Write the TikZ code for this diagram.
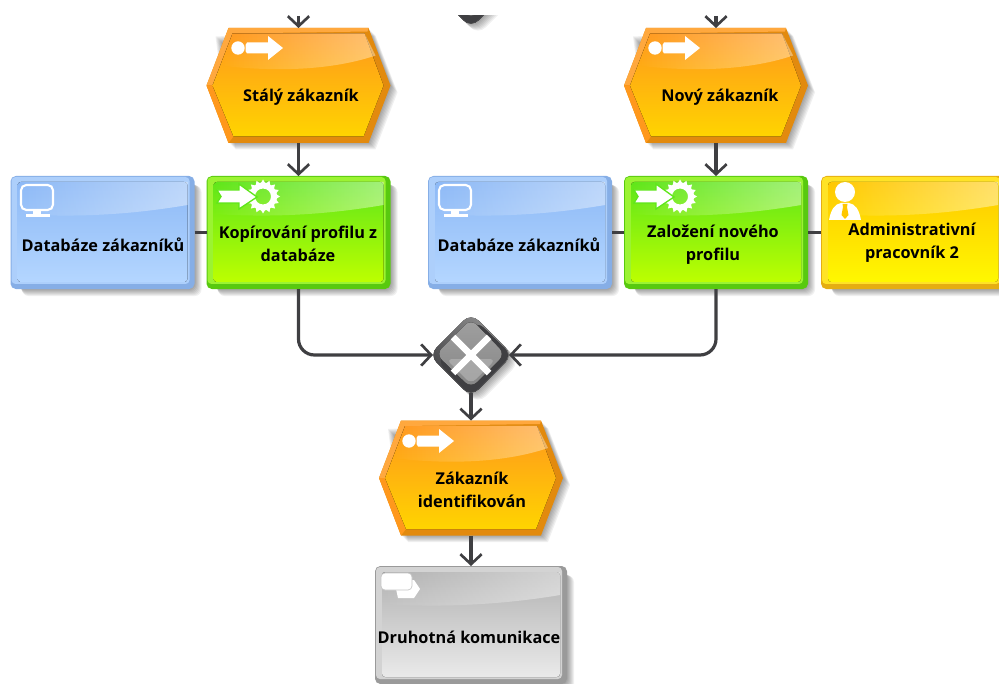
\documentclass[tikz,border=0pt]{standalone}
\usepackage{fontspec}
\setmainfont{Open Sans}
\usetikzlibrary{arrows.meta,fadings,calc}
\definecolor{linec}{HTML}{3F3F42}
\definecolor{bluee}{HTML}{86AEE6}\definecolor{bluet}{HTML}{8DB9F6}\definecolor{blueb}{HTML}{B4D6FF}
\definecolor{greene}{HTML}{58C90F}\definecolor{greent}{HTML}{5FE61A}\definecolor{greenb}{HTML}{BDFF00}
\definecolor{yele}{HTML}{E5AE12}\definecolor{yelt}{HTML}{FFC800}\definecolor{yelb}{HTML}{FFF800}
\definecolor{grye}{HTML}{9A9A9A}\definecolor{gryt}{HTML}{B2B2B2}\definecolor{gryb}{HTML}{EAEAEA}
\definecolor{orne}{HTML}{E28A0E}\definecolor{ornt}{HTML}{FF981C}\definecolor{ornb}{HTML}{FFD400}
\tikzset{
  x=0.75pt,y=-0.75pt,
  anchorbox/.style={inner sep=0pt,outer sep=0pt,rectangle},
  lbl/.style={inner sep=0pt,align=center,text=black,font=\fontsize{12.2}{17.2}\selectfont\bfseries},
  conn/.style={draw=linec,line width=2.4pt},
  flow/.style={conn,-{Straight Barb[length=7.5pt,width=16pt,line width=2pt]}},
  softshadow/.style={fill=black,fill opacity=0.06},
}
% name, cx, cy, w, h, colour prefix
\newcommand{\epcbox}[6]{%
  \begin{scope}[shift={(#2,#3)}]
    \pgfmathsetmacro{\hw}{#4/2}\pgfmathsetmacro{\hh}{#5/2}
    \foreach \d in {1,2,...,7}{
      \fill[softshadow,rounded corners=5pt] (-\hw+8+\d/2,-\hh+6+\d/2) rectangle (\hw+\d,\hh+\d);}
    \fill[#6e,rounded corners=4pt] (-\hw,-\hh) rectangle (\hw,\hh);
    \fill[#6t!55!#6b!85!white,rounded corners=3pt] (-\hw+1,-\hh+1) rectangle (\hw-5,\hh-5);
    \fill[top color=#6t,bottom color=#6b,rounded corners=2.5pt] (-\hw+7,-\hh+6) rectangle (\hw-7,\hh-7);
    \fill[white,fill opacity=0.42,path fading=west]
      (-\hw+7,-\hh+6) -- (\hw-7,-\hh+6) -- (\hw-7,-\hh+29)
      .. controls (\hw-60,-\hh+38) and (-\hw+70,-\hh+42) .. (-\hw+7,-\hh+38) -- cycle;
  \end{scope}
  \node[anchorbox,minimum width=#4*0.75pt,minimum height=#5*0.75pt] (#1) at (#2,#3) {};
}
% name, cx, cy
\newcommand{\epchex}[3]{%
  \begin{scope}[shift={(#2,#3)}]
    \foreach \d in {1,2,...,7}{
      \fill[softshadow] (-84+\d,-50+\d) -- (70+\d,-57+\d) -- (92+\d,0+\d) -- (70+\d,57+\d) -- (-70+\d,57+\d) -- cycle;}
    \fill[orne] (-92,0) -- (-70,-57.5) -- (70,-57.5) -- (92,0) -- (70,57.5) -- (-70,57.5) -- cycle;
    \fill[ornt!85!white] (-92,0) -- (-70,-57.5) -- (70,-57.5) -- (69,-54) -- (-66,-52) -- (-86,0) -- cycle;
    \fill[ornt] (-92,0) -- (-70,57.5) -- (-65,51) -- (-86,0) -- cycle;
    \fill[top color=ornt,bottom color=ornb] (-86,0) -- (-66,-52) -- (66,-52) -- (85,0) -- (65,51) -- (-65,51) -- cycle;
    \fill[white,fill opacity=0.38,path fading=west]
      (-66,-52) -- (66,-52) -- (77,-30)
      .. controls (30,-14) and (-30,-14) .. (-78,-20) -- cycle;
  \end{scope}
  \node[anchorbox,minimum width=138pt,minimum height=86.25pt] (#1) at (#2,#3) {};
}
% gateway body around (cx,cy)
\newcommand{\gatebody}[2]{%
  \begin{scope}[shift={(#1,#2)}]
    \foreach \d in {1,2,...,7}{
      \fill[softshadow,rounded corners=8pt] (-42+\d,\d) -- (\d,-42+\d) -- (42+\d,\d) -- (\d,42+\d) -- cycle;}
    \fill[rounded corners=8pt,shading=axis,left color=gray!85!white,right color=linec,shading angle=-45] (-42,0) -- (0,-42) -- (42,0) -- (0,42) -- cycle;
    \fill[linec,rounded corners=7pt] (-34,6) -- (0,41) -- (41,0) -- (6,-34) -- cycle;
    \fill[top color=gray!75!white,bottom color=gray!95!white,rounded corners=6pt] (-35,-1) -- (0,-36) -- (34,-1) -- (0,33) -- cycle;
    \fill[gray!55!white,fill opacity=.6,rounded corners=5pt] (-25,4) -- (25,4) -- (0,29) -- cycle;
    \draw[white,line width=5pt] (-18,-18) -- (18,18) (-18,18) -- (18,-18);
  \end{scope}
}
\newcommand{\eventicon}[2]{%
  \begin{scope}[shift={(#1,#2)}]
    \fill[white] (0,0) circle[radius=6.7];
    \fill[white] (9,-5.5) -- (30,-5.5) -- (30,-12) -- (45,0) -- (30,12) -- (30,5.5) -- (9,5.5) -- (7.5,3) -- (7.5,-3) -- cycle;
  \end{scope}
}
\newcommand{\funcicon}[2]{%
  \begin{scope}[shift={(#1,#2)}]
    \foreach \a in {0,22.5,...,337.5}{
      \fill[white] (46+13*cos \a-2.4*sin \a,0.5+13*sin \a+2.4*cos \a) -- (46+17*cos \a,0.5+17*sin \a) -- (46+13*cos \a+2.4*sin \a,0.5+13*sin \a-2.4*cos \a) -- cycle;}
    \fill[white,even odd rule] (46,0.5) circle[radius=14] (46,0.5) circle[radius=8];
    \fill[white,draw=greent,line width=1pt] (0,-6) -- (22,-6) -- (22,-12) -- (40,1) -- (22,13) -- (22,7) -- (0,7) -- (4,0.5) -- cycle;
  \end{scope}
}
\newcommand{\pcicon}[2]{%
  \begin{scope}[shift={(#1,#2)}]
    \draw[white,line width=1.6pt,rounded corners=4pt] (0,0) rectangle (32,25);
    \fill[white] (12,26) rectangle (20,29);
    \fill[white] (5,29.5) rectangle (29,32);
  \end{scope}
}
\begin{document}
\begin{tikzpicture}
\useasboundingbox (0,0) rectangle (999,684);
\clip (0,0) rectangle (999,684);

% coordinates for the free ends at the cropped top
\coordinate (top1) at (298.5,16);
\coordinate (top2) at (716,16);

% cropped gateway at the top
\begin{scope}
  \clip (0,16) rectangle (999,684);
  \gatebody{471}{-14}
\end{scope}

\epchex{hex1}{298.5}{85.5}
\epchex{hex2}{716}{85.5}
\epchex{hex3}{471}{478}

\epcbox{db1}{102.5}{232.5}{184}{113}{blue}
\epcbox{fn1}{298.5}{232.5}{184}{113}{green}
\epcbox{db2}{520}{232.5}{184}{113}{blue}
\epcbox{fn2}{716}{232.5}{184}{113}{green}
\epcbox{org}{913}{232.5}{184}{113}{yel}
\epcbox{task}{471}{625}{192}{118}{gry}

\gatebody{471}{355}
\node[anchorbox,minimum width=57pt,minimum height=56.25pt] (gw) at (471,355) {};

% icons
\eventicon{238}{48}
\eventicon{655}{48}
\eventicon{409}{441}
\funcicon{217}{196}
\funcicon{634}{196}
\pcicon{21}{185}
\pcicon{439}{185}
% person icon
\begin{scope}[shift={(845,181)}]
  \fill[white] (0,11) circle[radius=10];
  \fill[white] (-16,39) .. controls (-14,28) and (-10,23) .. (-4,22) -- (4,22) .. controls (10,23) and (14,28) .. (16,39) -- cycle;
  \fill[yelt] (-2.5,23) -- (2.5,23) -- (2,26) -- (3.5,34) -- (0,38) -- (-3.5,34) -- (-2,26) -- cycle;
\end{scope}
% task icon
\begin{scope}[shift={(380,572)}]
  \fill[white] (14,8) -- (34,8) -- (40,17) -- (34,26) -- (18,26) -- cycle;
  \fill[white,draw=gray!45!white,line width=0.5pt,rounded corners=3pt] (1,1) rectangle (32,18);
\end{scope}

% connectors
\draw[flow] (top1) -- (hex1.north);
\draw[flow] (top2) -- (hex2.north);
\draw[flow] (hex1.south) -- (fn1.north);
\draw[flow] (hex2.south) -- (fn2.north);
\draw[conn] (db1.east) -- (fn1.west);
\draw[conn] (db2.east) -- (fn2.west);
\draw[conn] (fn2.east) -- (org.west);
\draw[flow,rounded corners=12pt] (fn1.south) |- (gw.west);
\draw[flow,rounded corners=12pt] (fn2.south) |- (gw.east);
\draw[flow] (gw.south) -- (hex3.north);
\draw[flow] (hex3.south) -- (task.north);

% labels
\node[lbl] (t1) at (301,97) {Stálý zákazník};
\node[lbl] (t2) at (720,97) {Nový zákazník};
\node[lbl] (t3) at (103,245) {Databáze zákazníků};
\node[lbl] (t4) at (298,243.5) {Kopírování profilu z\\databáze};
\node[lbl] (t5) at (519,245) {Databáze zákazníků};
\node[lbl] (t6) at (713,245) {Založení nového\\profilu};
\node[lbl] (t7) at (912,243) {Administrativní\\pracovník 2};
\node[lbl] (t8) at (472,489.5) {Zákazník\\identifikován};
\node[lbl] (t9) at (469,637) {Druhotná komunikace};
\end{tikzpicture}
\end{document}
